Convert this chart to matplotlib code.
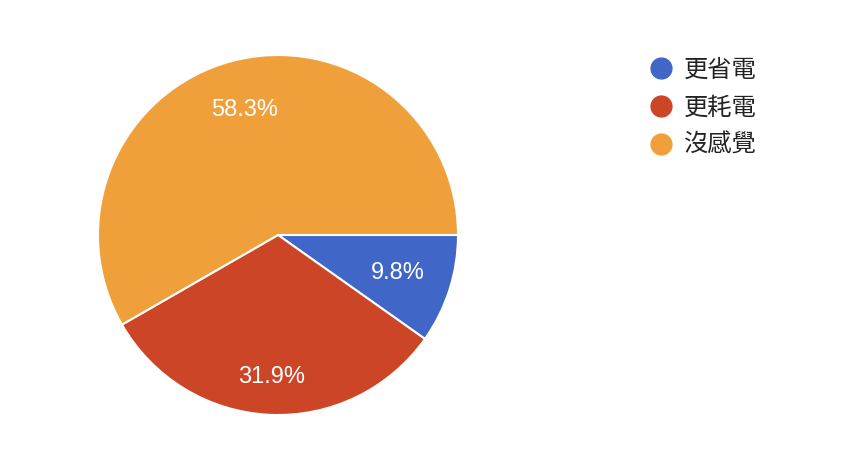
import numpy as np
import matplotlib.pyplot as plt
from matplotlib.lines import Line2D

plt.rcParams['font.family'] = ['Noto Sans CJK TC', 'DejaVu Sans']

labels = ["更省電", "更耗電", "沒感覺"]
shares = [9.8, 31.9, 58.3]
colors = ["#4066C8", "#CC4526", "#F0A03A"]
label_dist = [0.70, 0.79, 0.72]

W, H = 842, 468
fig = plt.figure(figsize=(W / 100, H / 100), dpi=100)

# pie centre (278, 235) px from top, radius 180 px
cx, cy, r = 278, H - 235, 180
ax = fig.add_axes([(cx - r) / W, (cy - r) / H, 2 * r / W, 2 * r / H])
wedges, texts, autotexts = ax.pie(
    shares, colors=colors, startangle=0, counterclock=False,
    autopct="%.1f%%", pctdistance=0.74, radius=1,
    wedgeprops=dict(edgecolor="white", linewidth=1.5),
    textprops=dict(color="white", fontsize=17, family=["Liberation Sans", "DejaVu Sans"]),
)
# nudge each percentage label along its wedge's mid-angle
for w, t, d in zip(wedges, autotexts, label_dist):
    mid = np.deg2rad((w.theta1 + w.theta2) / 2)
    t.set_position((d * np.cos(mid), d * np.sin(mid)))

ax.set_xlim(-1, 1)
ax.set_ylim(-1, 1)
ax.set_aspect("equal")
ax.axis("off")

handles = [Line2D([], [], marker="o", linestyle="", markersize=15,
                  markerfacecolor=c, markeredgecolor=c) for c in colors]
leg = fig.legend(handles, labels, loc="upper left",
                 bbox_to_anchor=(638 / W, 1 - 47 / H), frameon=False,
                 fontsize=17.5, labelspacing=0.48, handletextpad=0.37,
                 handlelength=1.1, borderaxespad=0)
for t in leg.get_texts():
    t.set_color("#222222")

fig.savefig("out.png", dpi=100, facecolor="white")
